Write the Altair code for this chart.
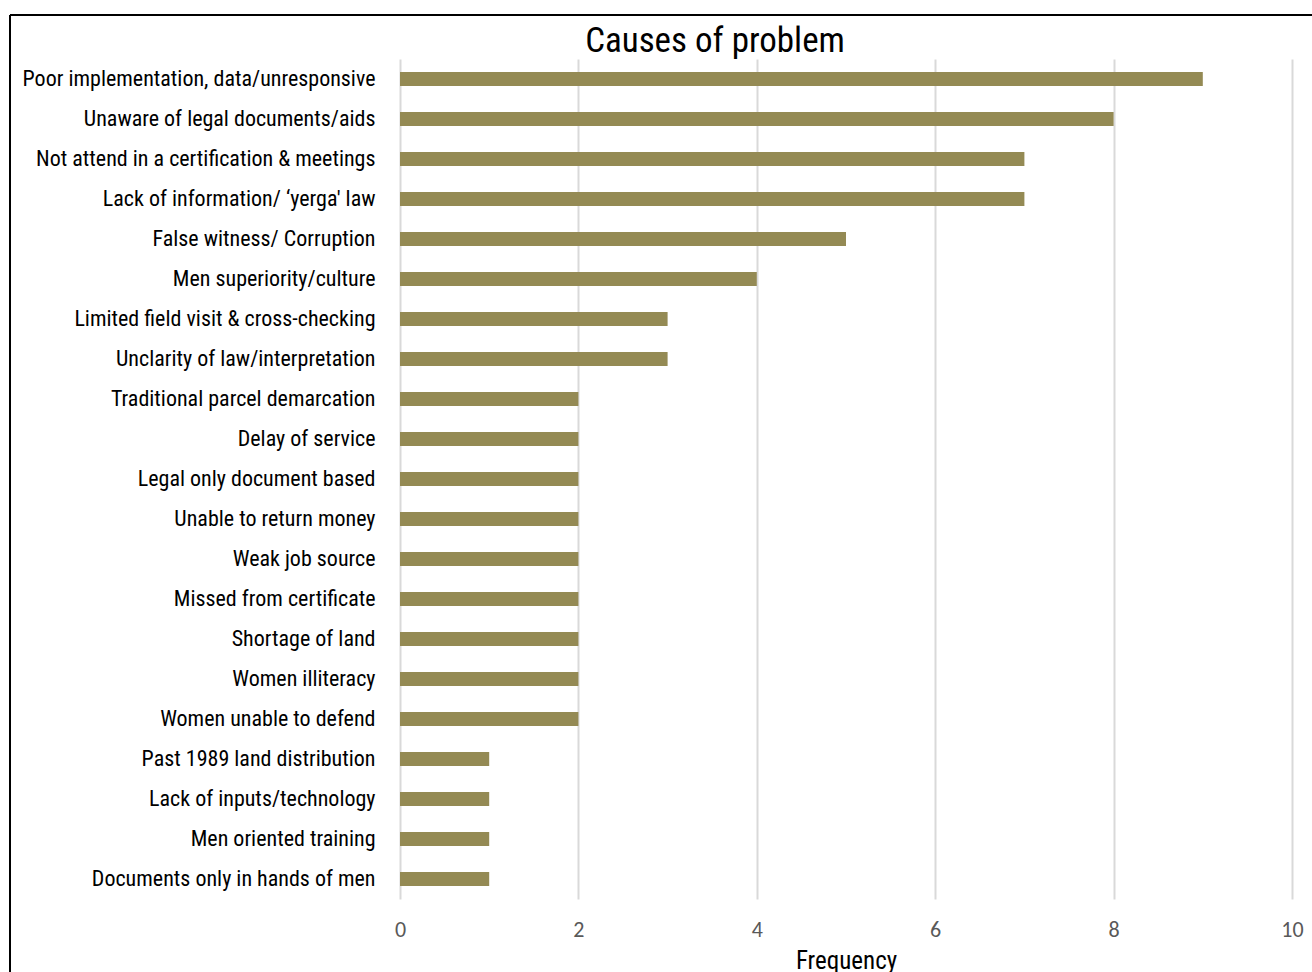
import altair as alt
import pandas as pd

causes = [
    "Poor implementation, data/unresponsive",
    "Unaware of legal documents/aids",
    "Not attend in a certification & meetings",
    "Lack of information/ \u2018yerga' law",
    "False witness/ Corruption",
    "Men superiority/culture",
    "Limited field visit & cross-checking",
    "Unclarity of law/interpretation",
    "Traditional  parcel demarcation",
    "Delay of service",
    "Legal only document based",
    "Unable to return money",
    "Weak job source",
    "Missed from certificate",
    "Shortage of land",
    "Women illiteracy",
    "Women unable to defend",
    "Past 1989 land distribution",
    "Lack of inputs/technology",
    "Men oriented training",
    "Documents only in hands of men",
]
frequency = [9, 8, 7, 7, 5, 4, 3, 3, 2, 2, 2, 2, 2, 2, 2, 2, 2, 1, 1, 1, 1]

df = pd.DataFrame({"cause": causes, "freq": frequency})

NARROW = "Liberation Sans Narrow, Roboto Condensed, DejaVu Sans Condensed, sans-serif"
TICKF = "Carlito, Lato, sans-serif"

bars = alt.Chart(df).mark_bar(color="#948A54").encode(
    x=alt.X("freq:Q",
            scale=alt.Scale(domain=[0, 10], nice=False),
            axis=alt.Axis(values=[0, 2, 4, 6, 8, 10], title="Frequency",
                          grid=True, gridColor="#d9d9d9", gridWidth=2,
                          domain=False, ticks=False, labelFlush=False,
                          labelFont=TICKF, labelFontSize=22, labelColor="#595959",
                          labelPadding=20,
                          titleFont=NARROW, titleFontSize=25, titleFontWeight="normal",
                          titleColor="#000000", titlePadding=8)),
    y=alt.Y("cause:N", sort=causes,
            scale=alt.Scale(paddingInner=0.65, paddingOuter=0.325),
            axis=alt.Axis(title=None, domain=False, ticks=False, grid=False,
                          labelFont=NARROW, labelFontSize=22, labelColor="#000000",
                          labelPadding=25, labelLimit=400)),
)

top_border = alt.Chart(df).mark_rule(color="#000000", strokeWidth=2).encode(
    x=alt.value(-390), x2=alt.value(1000), y=alt.value(-44)
)
left_border = alt.Chart(df).mark_rule(color="#000000", strokeWidth=2).encode(
    x=alt.value(-390), y=alt.value(-44), y2=alt.value(1000)
)

chart = alt.layer(bars, top_border, left_border).properties(
    width=892, height=840,
    title=alt.TitleParams("Causes of problem", font=NARROW, fontSize=35,
                          fontWeight="normal", color="#000000",
                          anchor="middle", dx=-131, dy=47, offset=2),
    padding={"left": 400, "top": 59, "right": 20, "bottom": 73},
    autosize=alt.AutoSizeParams(type="none"),
).configure(background="white").configure_view(stroke=None)

chart.save("out.html", embed_options={"renderer": "svg", "actions": False})
